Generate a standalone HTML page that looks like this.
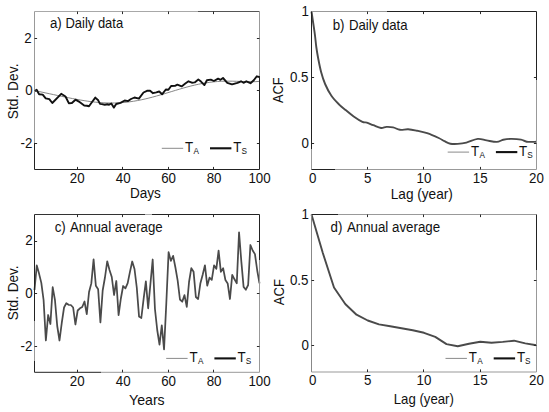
<!DOCTYPE html>
<html><head><meta charset="utf-8"><title>ACF figure</title><style>
html,body{margin:0;padding:0;background:#fff;width:549px;height:412px;overflow:hidden}
svg{display:block}
text{font-family:"Liberation Sans",sans-serif;font-size:13.8px;fill:#111}
</style></head><body>
<svg width="549" height="412" viewBox="0 0 549 412">
<rect width="549" height="412" fill="#fff"/>
<polyline fill="none" stroke="#777" stroke-width="0.9" points="34.50,90.54 38.31,91.36 42.13,92.18 45.94,93.00 49.75,93.81 53.57,94.62 57.38,95.44 61.19,96.25 65.01,97.04 68.82,97.83 72.64,98.58 76.45,99.31 80.26,99.99 84.08,100.63 87.89,101.21 91.70,101.72 95.52,102.16 99.33,102.51 103.14,102.78 106.96,102.95 110.77,103.02 114.58,102.98 118.40,102.85 122.21,102.60 126.03,102.25 129.84,101.79 133.65,101.23 137.47,100.57 141.28,99.82 145.09,98.98 148.91,98.06 152.72,97.07 156.53,96.02 160.35,94.93 164.16,93.80 167.97,92.65 171.79,91.49 175.60,90.33 179.42,89.19 183.23,88.09 187.04,87.03 190.86,86.03 194.67,85.10 198.48,84.25 202.30,83.49 206.11,82.84 209.92,82.29 213.74,81.85 217.55,81.52 221.36,81.29 225.18,81.17 228.99,81.15 232.81,81.20 236.62,81.30 240.43,81.45 244.25,81.59 248.06,81.71 251.87,81.74 255.69,81.65 259.50,81.36"/>
<polyline fill="none" stroke="#111" stroke-width="1.9" stroke-linejoin="round" points="34.50,91.20 36.60,89.70 39.10,94.30 42.70,94.60 45.70,98.30 49.30,99.20 52.30,103.00 61.20,93.80 65.50,96.50 68.80,103.20 71.90,103.00 75.50,99.70 78.90,101.60 84.20,105.50 86.90,105.80 89.00,106.20 91.70,102.50 95.30,97.60 98.20,100.30 100.00,103.90 101.90,104.10 104.80,104.70 107.30,104.30 109.10,104.70 111.30,103.50 113.80,107.60 116.20,104.00 120.50,102.80 124.70,100.50 128.10,101.10 131.00,99.00 134.50,97.50 138.90,98.60 143.50,92.50 147.00,90.80 150.10,90.70 153.00,93.20 156.30,92.40 159.20,91.50 162.10,94.30 165.80,89.50 168.40,89.80 171.10,86.00 175.00,85.90 177.40,84.70 181.60,86.40 185.30,83.60 188.50,81.30 191.90,82.70 194.70,82.40 198.30,79.50 201.00,81.60 204.40,85.10 206.90,80.20 210.80,79.60 213.90,81.00 218.10,78.60 220.50,79.80 223.00,78.00 227.30,82.80 232.00,84.40 237.50,82.80 241.00,81.30 243.50,82.80 246.30,81.30 250.50,83.20 254.00,80.00 256.80,76.30 259.00,77.00"/>
<path d="M34.5 11.5H198" stroke="#a8a8a8" stroke-width="1" fill="none"/>
<path d="M198 11.5H259.5" stroke="#555" stroke-width="1" fill="none"/>
<path d="M34.5 11.5V143" stroke="#999" stroke-width="1" fill="none"/>
<path d="M34.5 143V169.5" stroke="#222" stroke-width="1" fill="none"/>
<path d="M259.5 11.5V76" stroke="#999" stroke-width="1" fill="none"/>
<path d="M259.5 76V169.5" stroke="#222" stroke-width="1" fill="none"/>
<path d="M34.5 169.5H259.5" stroke="#222" stroke-width="1" fill="none"/>
<path d="M77.50 169.5V166.9M77.50 11.5V14.1M122.50 169.5V166.9M122.50 11.5V14.1M168.50 169.5V166.9M168.50 11.5V14.1M213.50 169.5V166.9M213.50 11.5V14.1M34.5 143.50H37.1M259.5 143.50H256.9M34.5 90.50H37.1M259.5 90.50H256.9M34.5 38.50H37.1M259.5 38.50H256.9" stroke="#2a2a2a" stroke-width="1" fill="none"/>
<text transform="translate(77.18,182.90) scale(0.965,1)" text-anchor="middle">20</text>
<text transform="translate(123.14,182.90) scale(0.965,1)" text-anchor="middle">40</text>
<text transform="translate(168.59,182.90) scale(0.965,1)" text-anchor="middle">60</text>
<text transform="translate(214.05,182.90) scale(0.965,1)" text-anchor="middle">80</text>
<text transform="translate(259.50,182.90) scale(0.965,1)" text-anchor="middle">100</text>
<text transform="translate(32.30,147.70) scale(0.965,1)" text-anchor="end">-2</text>
<text transform="translate(32.60,94.80) scale(0.965,1)" text-anchor="end">0</text>
<text transform="translate(31.60,42.80) scale(0.965,1)" text-anchor="end">2</text>
<path d="M161.8 148.3H183.20000000000002" stroke="#8a8a8a" stroke-width="1"/>
<path d="M210.0 148.3H231.4" stroke="#111" stroke-width="2.1"/>
<text transform="translate(185.10,151.90) scale(0.965,1)">T<tspan font-size="8.5" dx="0.4" dy="2">A</tspan></text>
<text transform="translate(233.20,151.90) scale(0.965,1)">T<tspan font-size="8.5" dx="0.1" dy="2">S</tspan></text>
<path fill="none" stroke="#4a4a4a" stroke-width="1.9" d="M311.50 11.50C311.78 13.42 312.62 19.00 313.20 23.00C313.78 27.00 314.48 31.50 315.00 35.50C315.52 39.50 315.77 43.17 316.30 47.00C316.83 50.83 317.40 54.33 318.20 58.50C319.00 62.67 319.95 67.75 321.10 72.00C322.25 76.25 323.38 80.03 325.10 84.00C326.82 87.97 329.05 92.37 331.40 95.80C333.75 99.23 336.77 102.18 339.20 104.60C341.63 107.02 343.58 108.32 346.00 110.30C348.42 112.28 350.97 114.57 353.70 116.50C356.43 118.43 360.22 120.88 362.40 121.90C364.58 122.92 364.98 122.05 366.80 122.60C368.62 123.15 370.93 124.30 373.30 125.20C375.67 126.10 378.80 127.72 381.00 128.00C383.20 128.28 384.48 127.00 386.50 126.90C388.52 126.80 390.85 126.92 393.10 127.40C395.35 127.88 397.50 129.48 400.00 129.80C402.50 130.12 405.28 129.15 408.10 129.30C410.92 129.45 413.73 130.05 416.90 130.70C420.07 131.35 423.47 131.98 427.10 133.20C430.73 134.42 435.80 136.67 438.70 138.00C441.60 139.33 442.55 140.25 444.50 141.20C446.45 142.15 448.20 143.25 450.40 143.70C452.60 144.15 455.03 144.08 457.70 143.90C460.37 143.72 463.07 143.43 466.40 142.60C469.73 141.77 474.33 139.27 477.70 138.90C481.07 138.53 483.42 139.90 486.60 140.40C489.78 140.90 494.03 142.00 496.80 141.90C499.57 141.80 500.87 140.30 503.20 139.80C505.53 139.30 507.83 138.93 510.80 138.90C513.77 138.87 518.35 139.13 521.00 139.60C523.65 140.07 524.12 141.33 526.70 141.70C529.28 142.07 534.87 141.78 536.50 141.80"/>
<path d="M311.5 11.5H387" stroke="#999" stroke-width="1" fill="none"/>
<path d="M387 11.5H536.5" stroke="#222" stroke-width="1" fill="none"/>
<path d="M311.5 11.5V149" stroke="#222" stroke-width="1" fill="none"/>
<path d="M311.5 149V169.5" stroke="#999" stroke-width="1" fill="none"/>
<path d="M536.5 11.5V80" stroke="#222" stroke-width="1" fill="none"/>
<path d="M536.5 80V169.5" stroke="#999" stroke-width="1" fill="none"/>
<path d="M311.5 169.5H335" stroke="#222" stroke-width="1" fill="none"/>
<path d="M335 169.5H536.5" stroke="#999" stroke-width="1" fill="none"/>
<path d="M367.50 169.5V166.9M367.50 11.5V14.1M423.50 169.5V166.9M423.50 11.5V14.1M480.50 169.5V166.9M480.50 11.5V14.1M311.5 143.50H314.1M536.5 143.50H533.9M311.5 77.50H314.1M536.5 77.50H533.9" stroke="#2a2a2a" stroke-width="1" fill="none"/>
<text transform="translate(312.60,182.90) scale(0.965,1)" text-anchor="middle">0</text>
<text transform="translate(367.75,182.90) scale(0.965,1)" text-anchor="middle">5</text>
<text transform="translate(424.00,182.90) scale(0.965,1)" text-anchor="middle">10</text>
<text transform="translate(480.25,182.90) scale(0.965,1)" text-anchor="middle">15</text>
<text transform="translate(536.50,182.90) scale(0.965,1)" text-anchor="middle">20</text>
<text transform="translate(308.90,147.57) scale(0.965,1)" text-anchor="end">0</text>
<text transform="translate(308.40,81.73) scale(0.965,1)" text-anchor="end">0.5</text>
<text transform="translate(308.90,15.90) scale(0.965,1)" text-anchor="end">1</text>
<path d="M447.7 152.1H469.09999999999997" stroke="#8a8a8a" stroke-width="1"/>
<path d="M495.9 152.1H517.3" stroke="#111" stroke-width="2.1"/>
<text transform="translate(471.00,155.70) scale(0.965,1)">T<tspan font-size="8.5" dx="0.4" dy="2">A</tspan></text>
<text transform="translate(519.10,155.70) scale(0.965,1)">T<tspan font-size="8.5" dx="0.1" dy="2">S</tspan></text>
<polyline fill="none" stroke="#4a4a4a" stroke-width="1.75" stroke-linejoin="round" points="34.50,290.00 36.77,265.40 39.05,273.60 41.32,282.90 43.59,300.00 45.86,340.50 48.14,315.00 50.41,324.00 52.68,287.20 54.95,300.00 57.23,326.00 59.50,340.50 61.77,322.90 64.05,307.50 66.32,303.20 68.59,304.80 70.86,305.00 73.14,307.50 75.41,324.50 77.68,310.50 79.95,308.30 82.23,307.00 84.50,301.50 86.77,314.10 89.05,292.00 91.32,283.40 93.59,259.40 95.86,285.80 98.14,289.30 100.41,322.50 102.68,290.50 104.95,277.50 107.23,261.30 109.50,270.00 111.77,277.00 114.05,295.00 116.32,281.00 118.59,315.20 120.86,298.50 123.14,286.00 125.41,288.30 127.68,283.20 129.95,271.80 132.23,261.50 134.50,269.00 136.77,287.50 139.05,316.60 141.32,318.00 143.59,299.10 145.86,281.30 148.14,308.30 150.41,284.00 152.68,259.50 154.95,309.00 157.23,330.00 159.50,344.70 161.77,325.40 164.05,349.40 166.32,303.00 168.59,252.20 170.86,260.90 173.14,255.80 175.41,267.50 177.68,280.60 179.95,299.50 182.23,301.70 184.50,295.10 186.77,306.80 189.05,282.00 191.32,268.20 193.59,271.80 195.86,297.00 198.14,299.00 200.41,283.20 202.68,274.80 204.95,265.30 207.23,285.70 209.50,277.70 211.77,279.90 214.05,265.30 216.32,268.90 218.59,250.70 220.86,271.80 223.14,268.20 225.41,280.00 227.68,283.40 229.95,299.00 232.23,274.80 234.50,279.30 236.77,283.30 239.05,232.30 241.32,261.40 243.59,286.90 245.86,289.70 248.14,285.00 250.41,245.00 252.68,250.50 254.95,254.10 257.23,270.50 259.50,283.30"/>
<path d="M34.5 214.5H145" stroke="#333" stroke-width="1" fill="none"/>
<path d="M145 214.5H152" stroke="#aaa" stroke-width="1" fill="none"/>
<path d="M152 214.5H259.5" stroke="#222" stroke-width="1" fill="none"/>
<path d="M34.5 214.5V321" stroke="#222" stroke-width="1" fill="none"/>
<path d="M34.5 321V361" stroke="#999" stroke-width="1" fill="none"/>
<path d="M34.5 361V372.3" stroke="#222" stroke-width="1" fill="none"/>
<path d="M259.5 214.5V260" stroke="#222" stroke-width="1" fill="none"/>
<path d="M259.5 260V372.3" stroke="#999" stroke-width="1" fill="none"/>
<path d="M34.5 372.3H101" stroke="#222" stroke-width="1" fill="none"/>
<path d="M101 372.3H259.5" stroke="#999" stroke-width="1" fill="none"/>
<path d="M77.50 372.3V369.7M77.50 214.5V217.1M122.50 372.3V369.7M122.50 214.5V217.1M168.50 372.3V369.7M168.50 214.5V217.1M213.50 372.3V369.7M213.50 214.5V217.1M34.5 346.50H37.1M259.5 346.50H256.9M34.5 293.50H37.1M259.5 293.50H256.9M34.5 241.50H37.1M259.5 241.50H256.9" stroke="#2a2a2a" stroke-width="1" fill="none"/>
<text transform="translate(77.18,385.70) scale(0.965,1)" text-anchor="middle">20</text>
<text transform="translate(123.14,385.70) scale(0.965,1)" text-anchor="middle">40</text>
<text transform="translate(168.59,385.70) scale(0.965,1)" text-anchor="middle">60</text>
<text transform="translate(214.05,385.70) scale(0.965,1)" text-anchor="middle">80</text>
<text transform="translate(259.50,385.70) scale(0.965,1)" text-anchor="middle">100</text>
<text transform="translate(32.30,350.70) scale(0.965,1)" text-anchor="end">-2</text>
<text transform="translate(32.60,297.80) scale(0.965,1)" text-anchor="end">0</text>
<text transform="translate(32.60,245.40) scale(0.965,1)" text-anchor="end">2</text>
<path d="M166.2 358.4H187.6" stroke="#8a8a8a" stroke-width="1"/>
<path d="M214.39999999999998 358.4H235.79999999999998" stroke="#111" stroke-width="2.1"/>
<text transform="translate(189.50,362.00) scale(0.965,1)">T<tspan font-size="8.5" dx="0.4" dy="2">A</tspan></text>
<text transform="translate(237.60,362.00) scale(0.965,1)">T<tspan font-size="8.5" dx="0.1" dy="2">S</tspan></text>
<polyline fill="none" stroke="#4a4a4a" stroke-width="1.9" stroke-linejoin="round" points="311.50,214.50 322.75,252.80 334.00,287.50 345.25,304.00 356.50,314.70 367.75,320.50 379.00,324.40 390.25,326.30 401.50,328.30 412.75,330.30 424.00,332.80 435.25,336.90 446.50,344.10 457.75,346.30 469.00,343.70 480.25,341.70 491.50,342.80 502.75,341.90 514.00,340.70 525.25,343.40 536.50,345.20"/>
<path d="M311.5 214.5H338" stroke="#222" stroke-width="1" fill="none"/>
<path d="M338 214.5H536.5" stroke="#999" stroke-width="1" fill="none"/>
<path d="M311.5 214.5V372" stroke="#888" stroke-width="1" fill="none"/>
<path d="M536.5 214.5V270" stroke="#222" stroke-width="1" fill="none"/>
<path d="M536.5 270V372" stroke="#999" stroke-width="1" fill="none"/>
<path d="M311.5 372.0H536.5" stroke="#999" stroke-width="1" fill="none"/>
<path d="M367.50 372.0V369.4M367.50 214.5V217.1M423.50 372.0V369.4M423.50 214.5V217.1M480.50 372.0V369.4M480.50 214.5V217.1M311.5 345.50H314.1M536.5 345.50H533.9M311.5 280.50H314.1M536.5 280.50H533.9" stroke="#2a2a2a" stroke-width="1" fill="none"/>
<text transform="translate(312.60,385.40) scale(0.965,1)" text-anchor="middle">0</text>
<text transform="translate(367.75,385.40) scale(0.965,1)" text-anchor="middle">5</text>
<text transform="translate(424.00,385.40) scale(0.965,1)" text-anchor="middle">10</text>
<text transform="translate(480.25,385.40) scale(0.965,1)" text-anchor="middle">15</text>
<text transform="translate(536.50,385.40) scale(0.965,1)" text-anchor="middle">20</text>
<text transform="translate(308.90,350.15) scale(0.965,1)" text-anchor="end">0</text>
<text transform="translate(308.40,284.52) scale(0.965,1)" text-anchor="end">0.5</text>
<text transform="translate(308.90,218.90) scale(0.965,1)" text-anchor="end">1</text>
<path d="M445.5 358.4H466.9" stroke="#8a8a8a" stroke-width="1"/>
<path d="M493.7 358.4H515.1" stroke="#111" stroke-width="2.1"/>
<text transform="translate(468.80,362.00) scale(0.965,1)">T<tspan font-size="8.5" dx="0.4" dy="2">A</tspan></text>
<text transform="translate(516.90,362.00) scale(0.965,1)">T<tspan font-size="8.5" dx="0.1" dy="2">S</tspan></text>
<text transform="translate(130.00,198.40) scale(0.9834,1)">Days</text>
<text transform="translate(390.70,198.60) scale(0.9894,1)">Lag (year)</text>
<text transform="translate(129.10,405.20) scale(1.0240,1)">Years</text>
<text transform="translate(393.70,404.10) scale(0.9570,1)">Lag (year)</text>
<text transform="translate(18.00,119.30) rotate(-90) scale(1.0016,1)">Std. Dev.</text>
<text transform="translate(283.00,103.00) rotate(-90) scale(0.9285,1)">ACF</text>
<text transform="translate(18.00,320.20) rotate(-90) scale(0.9838,1)">Std. Dev.</text>
<text transform="translate(284.00,305.20) rotate(-90) scale(0.9486,1)">ACF</text>
<text transform="translate(49.90,27.70) scale(0.9650,1)">a)</text>
<text transform="translate(65.50,27.70) scale(0.9406,1)">Daily data</text>
<text transform="translate(332.70,29.60) scale(0.9650,1)">b)</text>
<text transform="translate(348.90,29.60) scale(0.9569,1)">Daily data</text>
<text transform="translate(54.70,231.80) scale(0.9650,1)">c)</text>
<text transform="translate(69.90,231.80) scale(0.9601,1)">Annual average</text>
<text transform="translate(330.50,231.60) scale(0.9650,1)">d)</text>
<text transform="translate(346.90,231.60) scale(0.9650,1)">Annual average</text>
</svg>
</body></html>
